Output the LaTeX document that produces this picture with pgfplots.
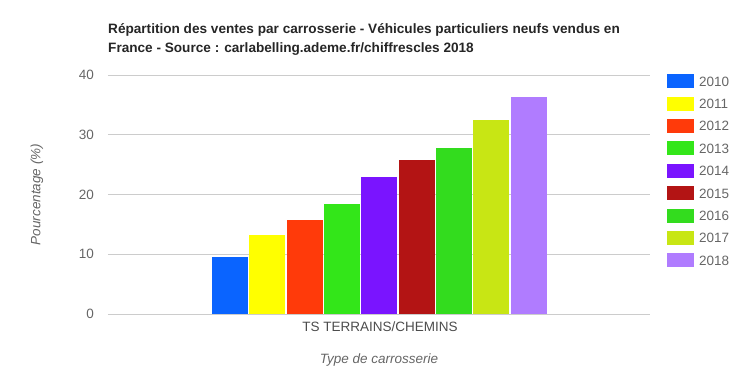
\documentclass[border=0pt]{standalone}
\usepackage{fontspec}
\setmainfont{Liberation Sans}
\usepackage{pgfplots}
\pgfplotsset{compat=1.18}
\definecolor{c2010}{HTML}{0A64FF}
\definecolor{c2011}{HTML}{FFFF00}
\definecolor{c2012}{HTML}{FF3A0A}
\definecolor{c2013}{HTML}{33E619}
\definecolor{c2014}{HTML}{7A14FF}
\definecolor{c2015}{HTML}{B31414}
\definecolor{c2016}{HTML}{33DC1E}
\definecolor{c2017}{HTML}{C8E614}
\definecolor{c2018}{HTML}{B07CFF}
\definecolor{txtgray}{HTML}{666666}
\definecolor{gridgray}{HTML}{CCCCCC}
\pgfplotsset{mybar/.style={ybar, bar width=36pt, bar shift=0pt, fill=#1, draw=none,
  legend image code/.code={\fill[##1] (0pt,-6pt) rectangle (27pt,8pt);}}}
\begin{document}
\begin{tikzpicture}
\path[use as bounding box] (-108pt,-75pt) rectangle (648pt,314pt);
\begin{axis}[
  scale only axis, width=542pt, height=239pt,
  at={(0pt,0pt)}, anchor=south west,
  xmin=0, xmax=542, ymin=0, ymax=40,
  ytick={0,10,20,30,40},
  xtick={272}, xticklabels={TS TERRAINS/CHEMINS},
  major tick length=0pt,
  axis line style={draw=none},
  ymajorgrids, grid style={color=gridgray, line width=0.9pt},
  tick label style={font=\fontsize{13.5}{16}\selectfont, text=txtgray},
  /pgf/number format/assume math mode=true,
  yticklabel style={inner sep=0pt, xshift=-14pt},
  xticklabel style={text=black!70, yshift=-4pt},
  title={Répartition des ventes par carrosserie - Véhicules particuliers neufs vendus en\\France - Source : carlabelling.ademe.fr/chiffrescles 2018},
  title style={at={(0,1)}, anchor=south west, align=left, inner sep=0pt, yshift=13pt,
    font=\bfseries\fontsize{13.6}{19}\selectfont, text=black!85},
  ylabel={Pourcentage (\%)},
  ylabel style={at={(axis description cs:-0.131,0.5)}, anchor=center, rotate=0,
    font=\itshape\fontsize{13.5}{16}\selectfont, text=txtgray},
  xlabel={Type de carrosserie},
  xlabel style={at={(axis description cs:0.5,0)}, anchor=center, yshift=-46pt,
    font=\itshape\fontsize{13.5}{16}\selectfont, text=txtgray},
  legend style={at={(1,1)}, anchor=north west, xshift=17pt, yshift=1pt,
    draw=none, fill=none, inner sep=0pt, row sep=8.4pt,
    font=\fontsize{13.5}{16}\selectfont, text=txtgray,
    nodes={inner xsep=5pt, inner ysep=0pt}},
  legend cell align=left,
]
\addplot[mybar=c2010] coordinates {(122.0,9.6)};
\addplot[mybar=c2011] coordinates {(159.3,13.2)};
\addplot[mybar=c2012] coordinates {(196.7,15.7)};
\addplot[mybar=c2013] coordinates {(234.0,18.4)};
\addplot[mybar=c2014] coordinates {(271.3,23.0)};
\addplot[mybar=c2015] coordinates {(308.7,25.8)};
\addplot[mybar=c2016] coordinates {(346.0,27.7)};
\addplot[mybar=c2017] coordinates {(383.3,32.4)};
\addplot[mybar=c2018] coordinates {(420.7,36.4)};
\legend{2010,2011,2012,2013,2014,2015,2016,2017,2018}
\end{axis}
\end{tikzpicture}
\end{document}
